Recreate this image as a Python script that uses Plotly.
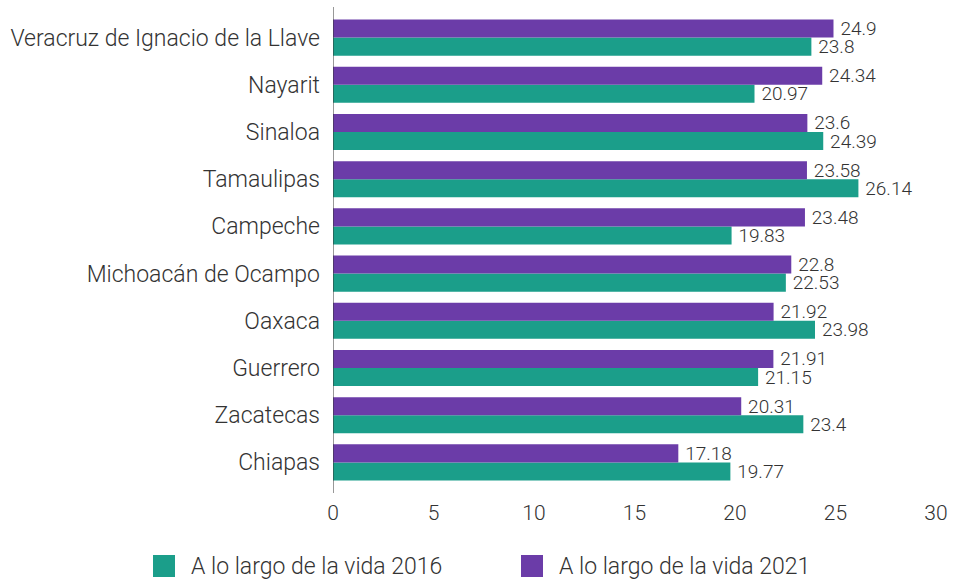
import plotly.graph_objects as go

categories = ["Veracruz de Ignacio de la Llave", "Nayarit", "Sinaloa", "Tamaulipas",
              "Campeche", "Michoacán de Ocampo", "Oaxaca", "Guerrero", "Zacatecas", "Chiapas"]
values_2016 = [23.8, 20.97, 24.39, 26.14, 19.83, 22.53, 23.98, 21.15, 23.4, 19.77]
values_2021 = [24.9, 24.34, 23.6, 23.58, 23.48, 22.8, 21.92, 21.91, 20.31, 17.18]
labels_2016 = ["23.8", "20.97", "24.39", "26.14", "19.83", "22.53", "23.98", "21.15", "23.4", "19.77"]
labels_2021 = ["24.9", "24.34", "23.6", "23.58", "23.48", "22.8", "21.92", "21.91", "20.31", "17.18"]
series_names = ["A lo largo de la vida 2016", "A lo largo de la vida 2021"]
colors = ["#1b9e8a", "#6b3ca8"]

FONT = "Roboto"
TXT = "#333333"
W, H = 962, 580
ML, MR, MT, MB = 333, 26, 14, 94
PW, PH = W - ML - MR, H - MT - MB

def px2x(px):
    return (px - ML) / PW

def py2y(py):
    return (H - MB - py) / PH

fig = go.Figure()
for vals, labs, name, col in [(values_2016, labels_2016, series_names[0], colors[0]),
                              (values_2021, labels_2021, series_names[1], colors[1])]:
    fig.add_trace(go.Bar(
        y=categories, x=vals, orientation="h", name=name,
        marker=dict(color=col, line=dict(width=0)), text=labs, textposition="outside",
        texttemplate="\u2009%{text}",
        constraintext="none", hoverinfo="skip",
        textfont=dict(family=FONT, size=19, color=TXT, weight=300), cliponaxis=False,
        showlegend=False,
    ))

# Custom legend (larger swatches than Plotly's default)
shapes = []
annotations = []
legend_items = [(153, 189), (521, 557)]
for (sx, tx), name, col in zip(legend_items, series_names, colors):
    shapes.append(dict(type="rect", xref="paper", yref="paper",
                       x0=px2x(sx), x1=px2x(sx + 22), y0=py2y(577), y1=py2y(555),
                       fillcolor=col, line=dict(width=0)))
    annotations.append(dict(xref="paper", yref="paper", x=px2x(tx), y=py2y(566),
                            xanchor="left", yanchor="middle", text=name, showarrow=False,
                            font=dict(family=FONT, size=23, color=TXT, weight=300)))

# vertical axis line at x = 0
shapes.append(dict(type="line", xref="x", yref="paper", x0=0, x1=0,
                   y0=py2y(493), y1=py2y(7), line=dict(color="#333333", width=1)))

fig.update_layout(
    width=W, height=H,
    margin=dict(l=ML, r=MR, t=MT, b=MB, autoexpand=False),
    barmode="group", bargap=0.235, bargroupgap=0.0,
    plot_bgcolor="white", paper_bgcolor="white",
    font=dict(family=FONT, size=21, color=TXT, weight=300),
    shapes=shapes, annotations=annotations,
    xaxis=dict(range=[0, 30], dtick=5, showgrid=False, zeroline=False, showline=False,
               ticks="", automargin=False, ticklabelstandoff=12,
               tickfont=dict(family=FONT, size=21, color=TXT, weight=300)),
    yaxis=dict(categoryorder="array", categoryarray=categories[::-1], showgrid=False,
               showline=False, zeroline=False, ticks="", automargin=False,
               ticklabelstandoff=12,
               tickfont=dict(family=FONT, size=23, color=TXT, weight=300)),
)

fig.write_html("out.html", config={"displayModeBar": False},
               post_script="document.body.style.margin='0';")
